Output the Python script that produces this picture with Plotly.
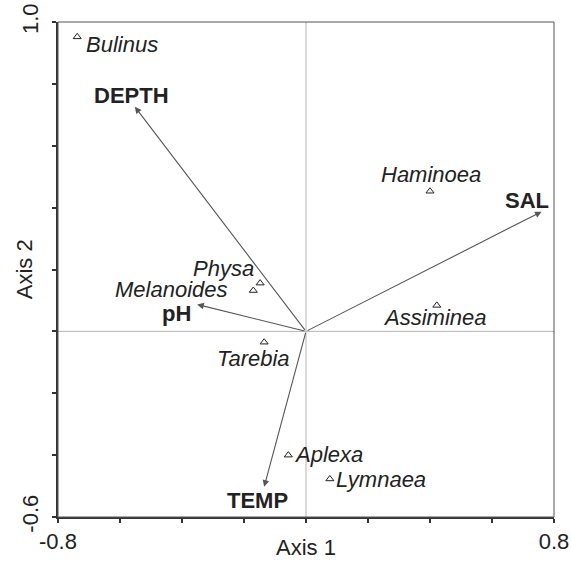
import plotly.graph_objects as go

# Species scores (Axis 1, Axis 2)
species = ["Bulinus", "Haminoea", "Physa", "Melanoides", "Tarebia", "Assiminea", "Aplexa", "Lymnaea"]
sp_x = [-0.738, 0.400, -0.148, -0.170, -0.135, 0.422, -0.057, 0.077]
sp_y = [0.952, 0.453, 0.156, 0.132, -0.035, 0.084, -0.400, -0.477]

# Environmental vectors (arrow tips)
env = ["DEPTH", "SAL", "pH", "TEMP"]
env_x = [-0.552, 0.760, -0.351, -0.135]
env_y = [0.726, 0.387, 0.087, -0.502]

# Axis ticks
tick_x = [-0.8, -0.6, -0.4, -0.2, 0.0, 0.2, 0.4, 0.6, 0.8]
tick_x_text = ["-0.8", "", "", "", "", "", "", "", "0.8"]
tick_y = [-0.6, -0.4, -0.2, 0.0, 0.2, 0.4, 0.6, 0.8, 1.0]
tick_y_text = ["-0.6", "", "", "", "", "", "", "", "1.0"]

FONT = "Liberation Sans, Arial, sans-serif"
TXT = "#222222"
FS = 22

# label placement styles (anchor, xshift, yshift) in pixels
sp_style = {
    "Bulinus": ("left", "middle", 7, -8),
    "Haminoea": ("center", "middle", 1, 17),
    "Physa": ("right", "middle", -4, 15),
    "Melanoides": ("right", "middle", -23, 1),
    "Tarebia": ("center", "middle", -11, -16),
    "Assiminea": ("center", "middle", -2, -12),
    "Aplexa": ("left", "middle", 4, 1),
    "Lymnaea": ("left", "middle", 4, -1),
}
env_style = {
    "DEPTH": ("center", "middle", -3, 11),
    "SAL": ("center", "middle", -15, 11),
    "pH": ("right", "middle", -4, -9),
    "TEMP": ("center", "middle", -7, -14),
}

fig = go.Figure()

fig.add_trace(go.Scatter(
    x=sp_x, y=sp_y, mode="markers",
    marker=dict(symbol="triangle-up-open", size=7, color="#222222", line=dict(width=1)),
    hovertext=species, showlegend=False,
))

annotations = []
for n, x, y in zip(species, sp_x, sp_y):
    xa, ya, xs, ys = sp_style[n]
    annotations.append(dict(
        x=x, y=y, xref="x", yref="y", text=f"<i>{n}</i>", showarrow=False,
        xanchor=xa, yanchor=ya, xshift=xs, yshift=ys,
        font=dict(family=FONT, size=FS, color=TXT),
    ))

for n, x, y in zip(env, env_x, env_y):
    annotations.append(dict(
        x=x, y=y, xref="x", yref="y", ax=0, ay=0, axref="x", ayref="y",
        text="", showarrow=True, arrowhead=2, arrowsize=1.2, arrowwidth=1.1,
        arrowcolor="#555555", standoff=0,
    ))
    xa, ya, xs, ys = env_style[n]
    annotations.append(dict(
        x=x, y=y, xref="x", yref="y", text=f"<b>{n}</b>", showarrow=False,
        xanchor=xa, yanchor=ya, xshift=xs, yshift=ys,
        font=dict(family=FONT, size=FS, color=TXT),
    ))

annotations.append(dict(
    x=0.5, y=-0.062, xref="paper", yref="paper", text="Axis 1", showarrow=False,
    xanchor="center", yanchor="middle", font=dict(family=FONT, size=FS, color=TXT),
))
annotations.append(dict(
    x=-0.067, y=0.5, xref="paper", yref="paper", text="Axis 2", showarrow=False,
    textangle=-90, xanchor="center", yanchor="middle",
    font=dict(family=FONT, size=FS, color=TXT),
))

shapes = [
    dict(type="line", xref="x", yref="paper", x0=0, x1=0, y0=0, y1=1,
         line=dict(color="#b5b5b5", width=1), layer="below"),
    dict(type="line", xref="paper", yref="y", x0=0, x1=1, y0=0, y1=0,
         line=dict(color="#b5b5b5", width=1), layer="below"),
    dict(type="rect", xref="paper", yref="paper", x0=0, x1=1, y0=0, y1=1,
         line=dict(color="#555555", width=1)),
]

fig.update_layout(
    width=571, height=565,
    margin=dict(l=58, r=17, t=22, b=48),
    plot_bgcolor="white", paper_bgcolor="white",
    annotations=annotations, shapes=shapes,
    font=dict(family=FONT, size=FS, color=TXT),
    xaxis=dict(
        range=[-0.8, 0.8], tickvals=tick_x, ticktext=tick_x_text, automargin=False,
        showgrid=False, zeroline=False, showline=True, linecolor="#333333", linewidth=2,
        ticks="outside", ticklen=4, tickwidth=1.5, tickcolor="#333333",
        ticklabeloverflow="allow",
        tickfont=dict(family=FONT, size=FS, color=TXT),
    ),
    yaxis=dict(
        range=[-0.6, 1.0], tickvals=tick_y, ticktext=tick_y_text, automargin=False,
        showgrid=False, zeroline=False, showline=True, linecolor="#333333", linewidth=2,
        ticks="outside", ticklen=4, tickwidth=1.5, tickcolor="#333333", tickangle=-90,
        ticklabelstandoff=5, ticklabeloverflow="allow",
        tickfont=dict(family=FONT, size=FS, color=TXT),
    ),
)

fig.write_html(
    "out.html",
    config={"displayModeBar": False},
    post_script="document.body.style.margin='0';document.body.style.overflow='hidden';",
)
